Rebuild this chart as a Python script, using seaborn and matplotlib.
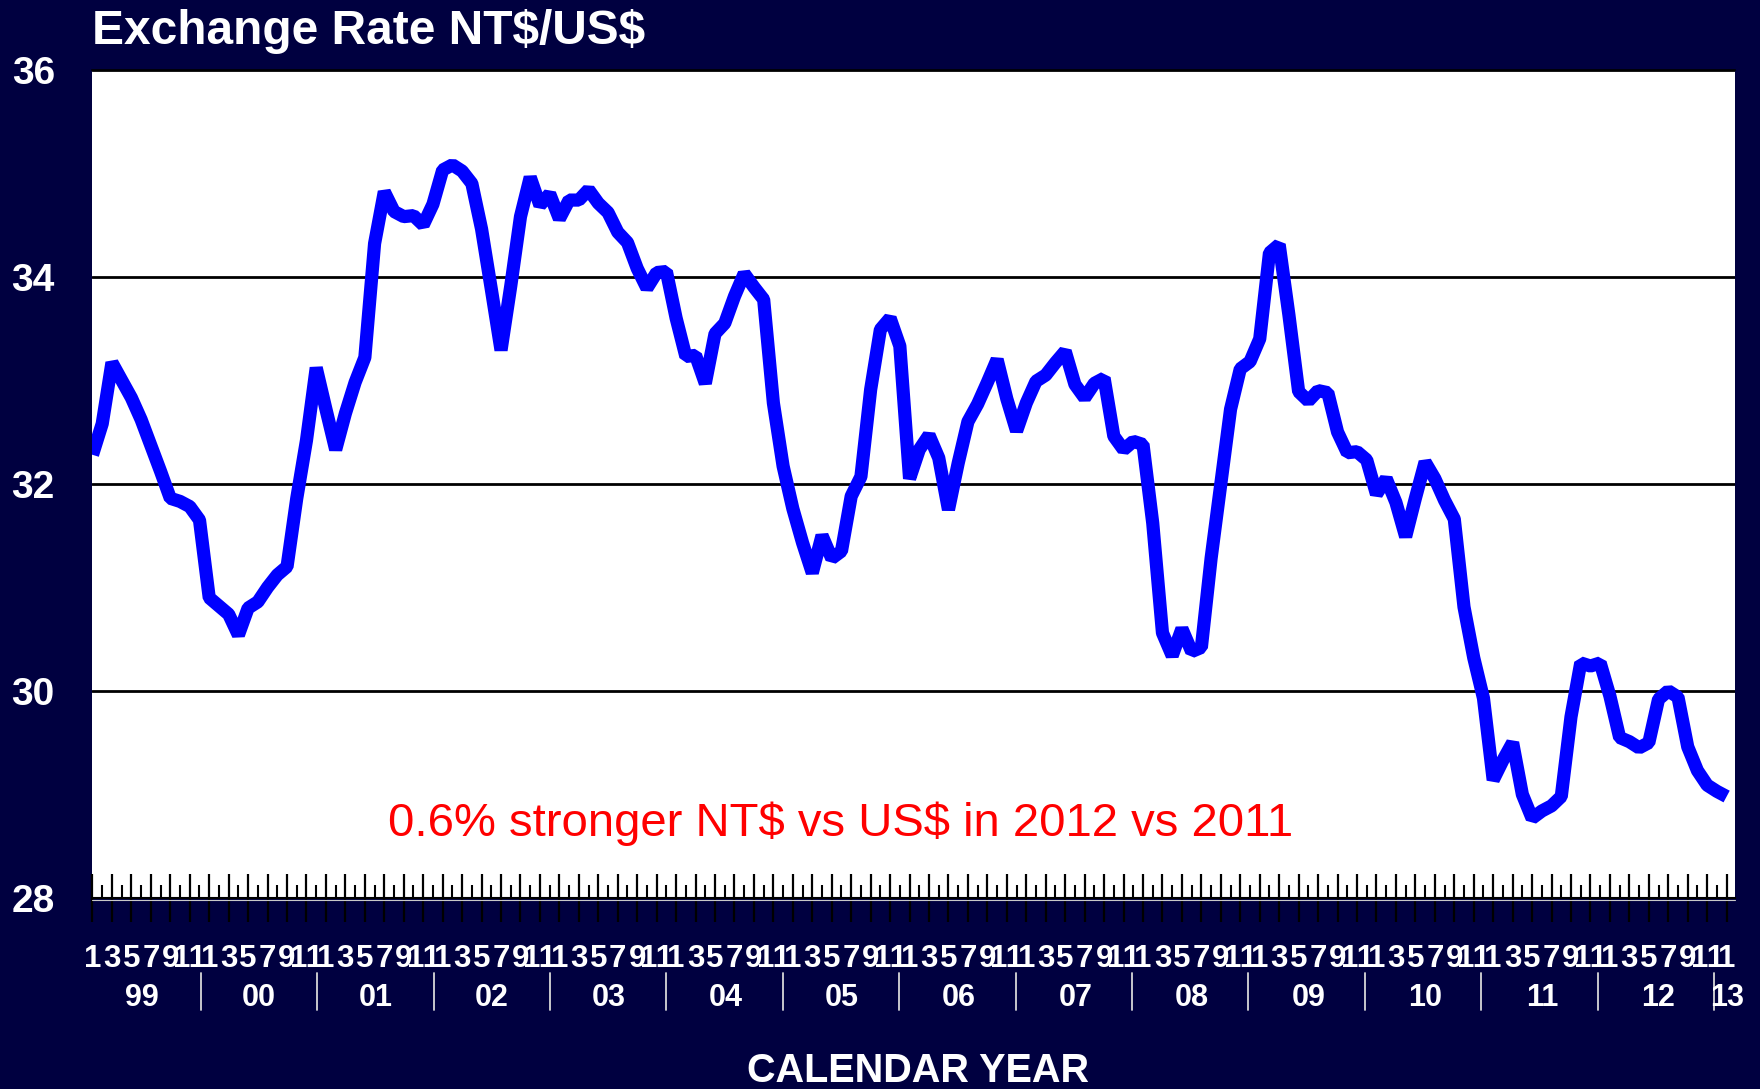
import numpy as np
import pandas as pd
import matplotlib
matplotlib.use("Agg")
import matplotlib.pyplot as plt
import seaborn as sns
from matplotlib.transforms import blended_transform_factory
from matplotlib.lines import Line2D

# ---------------- data (monthly NT$/US$, Jan 1999 .. Jan 2013) ----------------
rate_1999 = [32.28, 32.58, 33.17, 33.00, 32.83, 32.62, 32.37, 32.12, 31.86, 31.83, 31.78, 31.65]
rate_2000 = [30.90, 30.82, 30.74, 30.54, 30.80, 30.86, 31.00, 31.12, 31.20, 31.86, 32.42, 33.12]
rate_2001 = [32.72, 32.33, 32.68, 32.98, 33.22, 34.32, 34.82, 34.63, 34.58, 34.59, 34.50, 34.70]
rate_2002 = [35.03, 35.08, 35.02, 34.90, 34.46, 33.88, 33.29, 33.91, 34.58, 34.96, 34.69, 34.80]
rate_2003 = [34.56, 34.74, 34.74, 34.84, 34.71, 34.62, 34.43, 34.33, 34.08, 33.89, 34.04, 34.05]
rate_2004 = [33.60, 33.23, 33.24, 32.97, 33.45, 33.55, 33.81, 34.03, 33.90, 33.78, 32.78, 32.17]
rate_2005 = [31.76, 31.43, 31.14, 31.50, 31.28, 31.35, 31.88, 32.07, 32.91, 33.49, 33.60, 33.33]
rate_2006 = [32.05, 32.33, 32.47, 32.25, 31.75, 32.20, 32.60, 32.77, 32.98, 33.20, 32.82, 32.51]
rate_2007 = [32.78, 32.99, 33.05, 33.17, 33.28, 32.96, 32.83, 32.97, 33.02, 32.46, 32.33, 32.41]
rate_2008 = [32.38, 31.62, 30.56, 30.34, 30.60, 30.38, 30.42, 31.28, 32.00, 32.72, 33.11, 33.18]
rate_2009 = [33.40, 34.23, 34.31, 33.63, 32.89, 32.80, 32.90, 32.88, 32.50, 32.30, 32.31, 32.23]
rate_2010 = [31.90, 32.05, 31.82, 31.49, 31.86, 32.21, 32.05, 31.84, 31.66, 30.81, 30.32, 29.93]
rate_2011 = [29.14, 29.33, 29.50, 29.00, 28.77, 28.84, 28.89, 28.98, 29.75, 30.27, 30.24, 30.27]
rate_2012 = [29.95, 29.55, 29.51, 29.45, 29.50, 29.92, 30.00, 29.94, 29.46, 29.23, 29.09, 29.03]
rate_2013 = [28.98]

year_labels = ["99", "00", "01", "02", "03", "04", "05", "06", "07", "08", "09", "10", "11", "12", "13"]
month_tick_labels = ["1", "3", "5", "7", "9", "11"]
y_ticks = [28, 30, 32, 34, 36]

title_text = "Exchange Rate NT$/US$"
note_text = "0.6% stronger NT$ vs US$ in 2012 vs 2011"
xlabel_text = "CALENDAR YEAR"

rates = (rate_1999 + rate_2000 + rate_2001 + rate_2002 + rate_2003 + rate_2004 + rate_2005
         + rate_2006 + rate_2007 + rate_2008 + rate_2009 + rate_2010 + rate_2011 + rate_2012 + rate_2013)
df = pd.DataFrame({"month": np.arange(len(rates)), "rate": rates})

# ---------------- styling ----------------
sns.set_style("white")
plt.rcParams["font.family"] = ["Liberation Sans", "DejaVu Sans"]

NAVY = "#000040"
W, H = 1760, 1089
fig = plt.figure(figsize=(W / 100, H / 100), dpi=100, facecolor=NAVY)

ax_l, ax_r, ax_t, ax_b = 92.3, 1735.0, 69.6, 898.0
ax = fig.add_axes([ax_l / W, 1 - ax_b / H, (ax_r - ax_l) / W, (ax_b - ax_t) / H])
ax.set_facecolor("white")

sns.lineplot(data=df, x="month", y="rate", ax=ax, color="#0000FF", linewidth=9.5,
             estimator=None, solid_capstyle="butt", solid_joinstyle="bevel", zorder=5)

n = len(rates)
ax.set_xlim(-0.02, 168.86)
ax.set_ylim(28, 36)

# y axis
ax.set_yticks(y_ticks)
ax.set_yticklabels([str(v) for v in y_ticks], color="white", fontsize=28, fontweight="bold")
ax.tick_params(axis="y", length=0, pad=27)
ax.yaxis.grid(True, color="black", linewidth=2.0, zorder=1)
ax.xaxis.grid(False)
ax.set_axisbelow(True)

# x axis ticks: tall in/out every 2 months, short inside in between
ax.set_xticks(np.arange(0, n, 2))
ax.set_xticks(np.arange(1, n, 2), minor=True)
ax.tick_params(axis="x", which="major", direction="inout", length=35, width=1.6,
               color="black", labelbottom=False, bottom=True)
ax.tick_params(axis="x", which="minor", direction="in", length=9.4, width=1.5,
               color="black", bottom=True)
ax.set_xlabel("")
ax.set_ylabel("")

for side in ["left", "right"]:
    ax.spines[side].set_visible(False)
ax.spines["top"].set_color("black")
ax.spines["top"].set_linewidth(1.2)
ax.spines["bottom"].set_color("black")
ax.spines["bottom"].set_linewidth(1.5)

# thin light line just below the axis
yb = 1 - 900.0 / H
fig.add_artist(Line2D([ax_l / W, ax_r / W], [yb, yb], transform=fig.transFigure,
                      color="#C8C8C8", linewidth=0.8))

# month labels and year labels
bt = blended_transform_factory(ax.transData, fig.transFigure)
for i in range(0, n, 2):
    ax.text(i, 1 - 967 / H, month_tick_labels[(i % 12) // 2], transform=bt, ha="center",
            va="baseline", color="white", fontsize=22.5, fontweight="bold", clip_on=False)

year_pos = list(np.linspace(5.1, 161.0, 14)) + [168.0]
for pos, lab in zip(year_pos, year_labels):
    ax.text(pos, 1 - 1006 / H, lab, transform=bt, ha="center", va="baseline",
            color="white", fontsize=22, fontweight="bold", clip_on=False)

for pos in np.linspace(11.14, 166.7, 14):
    ax.add_line(Line2D([pos, pos], [1 - 973 / H, 1 - 1010 / H], transform=bt,
                       color="#D8D8D8", linewidth=1.3, clip_on=False))

# title, axis label, note
fig.text(91.5 / W, 1 - 44 / H, title_text, color="white", fontsize=34.5,
         fontweight="bold", ha="left", va="baseline", parse_math=False)
fig.text(918 / W, 1 - 1082 / H, xlabel_text, color="white", fontsize=28.5,
         fontweight="bold", ha="center", va="baseline")
ax.text(76.9, 28.60, note_text, color="#FF0000", fontsize=34, ha="center",
        va="baseline", parse_math=False, zorder=6)

fig.savefig("out.png", dpi=100, facecolor=NAVY)
